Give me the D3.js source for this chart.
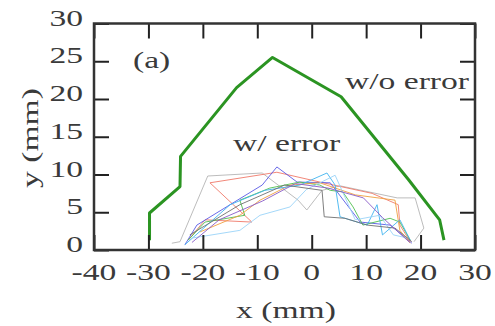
<!DOCTYPE html>
<html>
<head>
<meta charset="utf-8">
<script src="https://cdn.jsdelivr.net/npm/d3@7"></script>
<style>
  body { margin: 0; background: #fff; }
  svg text { font-family: "Liberation Serif", "Times New Roman", serif; fill: #3a3a3a; }
</style>
</head>
<body>
<svg id="chart"></svg>
<script>
// ticks
const xTicks = [-40, -30, -20, -10, 0, 10, 20, 30];
const yTicks = [0, 5, 10, 15, 20, 25, 30];

// trajectory without error (thick green)
const noErrX = [-29.8, -29.8, -24.2, -24.1, -13.8, -7.2, 5.4, 17.8, 23.5, 24.3];
const noErrY = [1.3, 4.9, 8.4, 12.4, 21.5, 25.5, 20.3, 9.3, 4.0, 1.3];

// trajectories with error (thin, one colour each)
const errColors = ["#b5b5b5", "#f07a6a", "#5a5ae6", "#50c050", "#f0a040",
                   "#40b4f0", "#9ad4f8", "#707070", "#8a5cc8"];
const errX = [
  [-25.7, -24.2, -19.1, -9.1, -2.5, -0.9, 1.9, 5.2, 15.7, 19.0, 20.6, 18.8],
  [-22.7, -19.6, -11.0, -18.7, -6.4, 1.5, 11.1, 15.9, 16.2, 18.1],
  [-23.3, -21.1, -15.0, -9.1, -6.4, -2.7, 3.4, 8.9, 14.4, 18.4],
  [-22.7, -19.6, -12.3, -13.2, -7.7, -2.2, 1.5, 3.4, 5.7, 7.6, 9.4, 14.4, 16.2, 18.1],
  [-20.5, -13.2, -9.5, -4.0, 1.5, 8.0, 15.3, 16.2, 18.1],
  [-23.3, -15.0, -8.6, -2.2, 2.8, 4.3, 5.2, 10.2, 12.0, 13.0, 16.2, 18.1],
  [-21.8, -13.2, -9.5, -4.0, -1.0, 4.3, 6.1, 8.0, 12.5, 15.0, 17.5],
  [-22.4, -13.2, -5.0, 1.9, 2.3, 6.1, 10.2, 15.3, 18.4],
  [-22.0, -17.0, -9.0, -3.0, 3.0, 9.5, 13.0, 18.0]
];
const errY = [
  [0.9, 1.1, 9.8, 10.2, 6.6, 5.3, 7.9, 8.5, 6.9, 6.9, 2.9, 1.1],
  [1.3, 4.0, 3.7, 8.9, 10.3, 9.0, 7.5, 6.0, 3.3, 1.1],
  [0.7, 3.3, 6.0, 8.6, 11.0, 9.0, 8.9, 3.7, 3.3, 0.9],
  [1.3, 3.7, 4.6, 6.6, 8.2, 9.0, 8.6, 7.9, 7.7, 5.7, 3.3, 4.2, 3.7, 1.3],
  [2.4, 4.6, 6.6, 8.6, 8.9, 7.3, 6.6, 2.6, 0.9],
  [0.7, 6.0, 7.9, 8.6, 10.2, 8.6, 4.4, 3.3, 6.0, 2.0, 4.0, 1.3],
  [1.6, 2.6, 4.6, 5.7, 8.0, 9.9, 7.0, 4.0, 4.6, 2.0, 1.6],
  [2.0, 6.0, 8.6, 7.9, 4.4, 4.2, 3.3, 2.9, 1.1],
  [1.0, 4.0, 6.5, 8.8, 8.2, 6.9, 4.3, 1.0]
];

const W = 495, H = 326;
const pLeft = 94, pRight = 475, pTop = 23.5, pBottom = 250;
const sx = 1.4; // text in the figure is horizontally stretched

const svg = d3.select("#chart").attr("width", W).attr("height", H);

const x = d3.scaleLinear().domain([-40, 30]).range([pLeft, pRight]);
const y = d3.scaleLinear().domain([0, 30]).range([pBottom, pTop]);

const line = d3.line().x((d) => x(d[0])).y((d) => y(d[1]));

// thin error trajectories
errX.forEach((xs, i) => {
  svg.append("path")
    .datum(xs.map((v, j) => [v, errY[i][j]]))
    .attr("fill", "none")
    .attr("stroke", errColors[i])
    .attr("stroke-width", 1)
    .attr("stroke-opacity", 0.9)
    .attr("stroke-linejoin", "round")
    .attr("d", line);
});

// thick green trajectory
svg.append("path")
  .datum(noErrX.map((v, j) => [v, noErrY[j]]))
  .attr("fill", "none")
  .attr("stroke", "#2b9422")
  .attr("stroke-width", 3)
  .attr("stroke-linejoin", "round")
  .attr("d", line);

// inward ticks on all four sides
const tickLen = 15;
const axStyle = (g) => {
  g.select(".domain").remove();
  g.selectAll(".tick line").attr("stroke", "#222").attr("stroke-width", 2);
  g.selectAll(".tick text").remove();
};
svg.append("g").attr("transform", `translate(0,${pBottom})`)
  .call(d3.axisTop(x).tickValues(xTicks).tickSize(tickLen)).call(axStyle);
svg.append("g").attr("transform", `translate(0,${pTop})`)
  .call(d3.axisBottom(x).tickValues(xTicks).tickSize(tickLen)).call(axStyle);
svg.append("g").attr("transform", `translate(${pLeft},0)`)
  .call(d3.axisRight(y).tickValues(yTicks).tickSize(tickLen)).call(axStyle);
svg.append("g").attr("transform", `translate(${pRight},0)`)
  .call(d3.axisLeft(y).tickValues(yTicks).tickSize(tickLen)).call(axStyle);

// frame
svg.append("rect")
  .attr("x", pLeft).attr("y", pTop)
  .attr("width", pRight - pLeft).attr("height", pBottom - pTop)
  .attr("fill", "none").attr("stroke", "#333").attr("stroke-width", 2.5);

// tick labels
svg.selectAll(".xl").data(xTicks).join("text")
  .attr("text-anchor", "middle")
  .attr("font-size", 24)
  .attr("transform", (d) => `translate(${x(d)},280) scale(${sx},1)`)
  .text((d) => d);
svg.selectAll(".yl").data(yTicks).join("text")
  .attr("text-anchor", "end")
  .attr("font-size", 24)
  .attr("transform", (d) => `translate(83,${y(d) + 2}) scale(${sx},1)`)
  .text((d) => d);

// axis titles
svg.append("text").attr("text-anchor", "middle").attr("font-size", 24)
  .attr("transform", `translate(286,318) scale(${sx},1)`).text("x (mm)");
svg.append("text").attr("text-anchor", "middle").attr("font-size", 24)
  .attr("transform", `translate(38,138) rotate(-90) scale(${sx},1)`).text("y (mm)");

// annotations
svg.append("text").attr("font-size", 24)
  .attr("transform", `translate(133,68) scale(${sx},1)`).text("(a)");
svg.append("text").attr("font-size", 24)
  .attr("transform", `translate(345,89) scale(${sx},1)`).text("w/o error");
svg.append("text").attr("font-size", 24)
  .attr("transform", `translate(233,151) scale(${sx},1)`).text("w/ error");
</script>
</body>
</html>
